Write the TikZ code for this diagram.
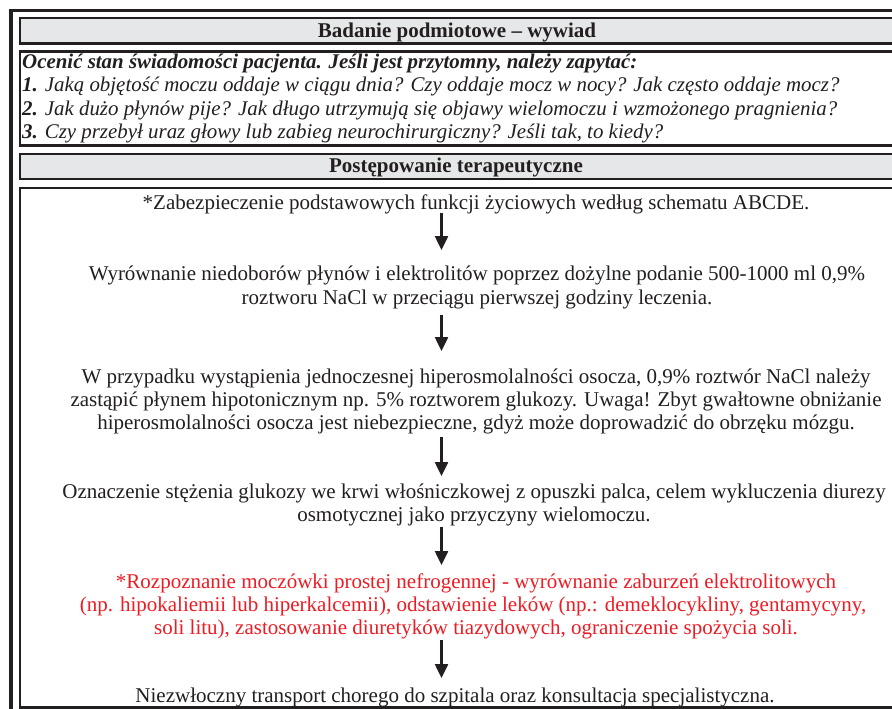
\documentclass[tikz,border=0pt]{standalone}
\usepackage{fontspec}
\setmainfont{Liberation Serif}
\usetikzlibrary{arrows.meta}
\definecolor{ink}{HTML}{231F20}
\definecolor{hdrgray}{HTML}{E6E7E8}
\definecolor{redtxt}{HTML}{ED1C24}
\begin{document}
\begin{tikzpicture}[x=1pt,y=-1pt,
  box/.style={draw=ink,line width=2.5pt},
  hdr/.style={box,fill=hdrgray},
  hdrtext/.style={font=\fontsize{21}{23}\selectfont\bfseries,text=ink,anchor=base,inner sep=0},
  qline/.style={font=\fontsize{20.9}{23}\selectfont\itshape,text=ink,anchor=base west,inner sep=0},
  flow/.style={font=\fontsize{21}{23}\selectfont,text=ink,anchor=base,inner sep=0},
  flowred/.style={flow,text=redtxt},
  arr/.style={draw=ink,line width=2.5pt,-{Triangle[width=13pt,length=14pt]}},
]
\useasboundingbox (0,0) rectangle (892,709);
\fill[white] (0,0) rectangle (892,709);
% outer frame
\fill[ink] (9,9) rectangle (13,709);
\fill[ink] (9,9) rectangle (900,12);
% boxes
\draw[hdr] (20,18) rectangle (895,43.5);
\draw[box] (20,51.5) rectangle (895,145.5);
\draw[hdr] (20,154) rectangle (895,179);
\draw[box] (20,188) rectangle (895,707.5);
% headers
\node[hdrtext] (h1) at (457,37.5) {Badanie podmiotowe – wywiad};
\node[hdrtext] (h2) at (456,172.5) {Postępowanie terapeutyczne};
% questions
\node[qline] (q0) at (22,69) {\bfseries Ocenić stan świadomości pacjenta. Jeśli jest przytomny, należy zapytać:};
\node[qline] (q1) at (22,92) {{\bfseries 1.} Jaką objętość moczu oddaje w ciągu dnia? Czy oddaje mocz w nocy? Jak często oddaje mocz?};
\node[qline] (q2) at (22,115) {{\bfseries 2.} Jak dużo płynów pije? Jak długo utrzymują się objawy wielomoczu i wzmożonego pragnienia?};
\node[qline] (q3) at (22,138) {{\bfseries 3.} Czy przebył uraz głowy lub zabieg neurochirurgiczny? Jeśli tak, to kiedy?};
% flow
\node[flow] (t1) at (476,209) {*Zabezpieczenie podstawowych funkcji życiowych według schematu ABCDE.};
\node[flow] (t2a) at (477,280) {Wyrównanie niedoborów płynów i elektrolitów poprzez dożylne podanie 500-1000 ml 0,9\%};
\node[flow] (t2b) at (477,304) {roztworu NaCl w przeciągu pierwszej godziny leczenia.};
\node[flow] (t3a) at (476,383) {W przypadku wystąpienia jednoczesnej hiperosmolalności osocza, 0,9\% roztwór NaCl należy};
\node[flow] (t3b) at (476,406) {zastąpić płynem hipotonicznym np. 5\% roztworem glukozy. Uwaga! Zbyt gwałtowne obniżanie};
\node[flow] (t3c) at (476,429) {hiperosmolalności osocza jest niebezpieczne, gdyż może doprowadzić do obrzęku mózgu.};
\node[flow] (t4a) at (474,498) {Oznaczenie stężenia glukozy we krwi włośniczkowej z opuszki palca, celem wykluczenia diurezy};
\node[flow] (t4b) at (474,521) {osmotycznej jako przyczyny wielomoczu.};
\node[flowred] (t5a) at (476,588) {*Rozpoznanie moczówki prostej nefrogennej - wyrównanie zaburzeń elektrolitowych};
\node[flowred] (t5b) at (473,611) {(np. hipokaliemii lub hiperkalcemii), odstawienie leków (np.: demeklocykliny, gentamycyny,};
\node[flowred] (t5c) at (476,634) {soli litu), zastosowanie diuretyków tiazydowych, ograniczenie spożycia soli.};
\node[flow] (t6) at (455,702) {Niezwłoczny transport chorego do szpitala oraz konsultacja specjalistyczna.};
% arrows
\coordinate (a1s) at (441.5,213); \coordinate (a1e) at (441.5,250);
\coordinate (a2s) at (441.5,315); \coordinate (a2e) at (441.5,351);
\coordinate (a3s) at (441.5,437); \coordinate (a3e) at (441.5,476);
\coordinate (a4s) at (441.5,527); \coordinate (a4e) at (441.5,565);
\coordinate (a5s) at (441.5,640); \coordinate (a5e) at (441.5,678);
\draw[arr] (a1s) -- (a1e);
\draw[arr] (a2s) -- (a2e);
\draw[arr] (a3s) -- (a3e);
\draw[arr] (a4s) -- (a4e);
\draw[arr] (a5s) -- (a5e);
\end{tikzpicture}
\end{document}
